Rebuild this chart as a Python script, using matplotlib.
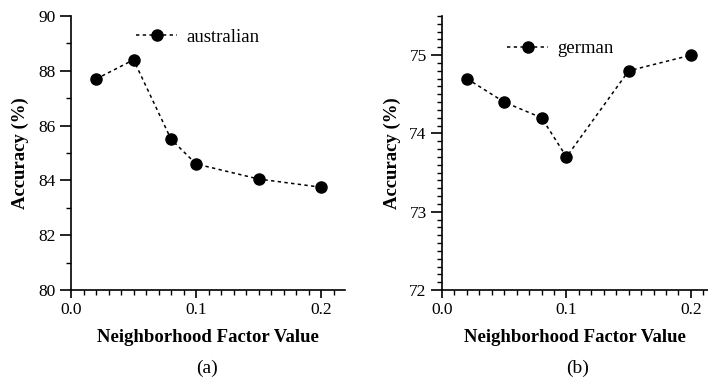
import matplotlib.pyplot as plt
from matplotlib.ticker import MultipleLocator

plt.rcParams['font.family'] = ['Liberation Serif', 'DejaVu Serif']

# data
factor = [0.02, 0.05, 0.08, 0.1, 0.15, 0.2]
acc_australian = [87.7, 88.4, 85.5, 84.6, 84.05, 83.75]
acc_german = [74.7, 74.4, 74.2, 73.7, 74.8, 75.0]

fig = plt.figure(figsize=(7.08, 3.8), dpi=100)
ax1 = fig.add_axes([71 / 708, 1 - 290 / 380, 274 / 708, 274 / 380])
ax2 = fig.add_axes([442 / 708, 1 - 290 / 380, 266 / 708, 274 / 380])


def style(ax, ylim, ymajor, yminor, xmax, ylab_x):
    ax.set_xlim(0, xmax)
    ax.set_ylim(*ylim)
    ax.spines['top'].set_visible(False)
    ax.spines['right'].set_visible(False)
    ax.xaxis.set_major_locator(MultipleLocator(0.1))
    ax.xaxis.set_minor_locator(MultipleLocator(0.01))
    ax.yaxis.set_major_locator(MultipleLocator(ymajor))
    ax.yaxis.set_minor_locator(MultipleLocator(yminor))
    ax.xaxis.set_major_formatter(plt.FuncFormatter(lambda v, p: f'{v:.1f}'))
    ax.tick_params(which='major', direction='out', width=1.2, labelsize=12.5, pad=3)
    ax.tick_params(axis='y', which='major', length=8)
    ax.tick_params(axis='x', which='major', length=6)
    ax.tick_params(which='minor', direction='out', length=3.5, width=1)
    for s in ['left', 'bottom']:
        ax.spines[s].set_linewidth(1.2)
    ax.set_xlabel('Neighborhood Factor Value', fontsize=13.5, fontweight='bold', va='center')
    ax.set_ylabel('Accuracy (%)', fontsize=13.5, fontweight='bold', va='center')
    ax.xaxis.set_label_coords(0.5, (290 - 337) / 274)
    ax.yaxis.set_label_coords(ylab_x, 0.5)


line_kw = dict(color='black', linestyle=(0, (2.2, 2.2)), linewidth=1.1,
               marker='o', markersize=8, markerfacecolor='black', markeredgecolor='black')
leg_kw = dict(loc='center left', frameon=False, borderpad=0, borderaxespad=0,
              handlelength=2.2, handletextpad=0.5, fontsize=13.5)

ax1.plot(factor, acc_australian, label='australian', **line_kw)
style(ax1, (80, 90), 2, 1, 0.219, -0.186)
ax1.legend(bbox_to_anchor=(0.237, 0.923), **leg_kw)

ax2.plot(factor, acc_german, label='german', **line_kw)
style(ax2, (72, 75.5), 1, 0.1, 0.2137, -0.188)
ax2.legend(bbox_to_anchor=(0.244, 0.88), **leg_kw)

fig.text(207 / 708, 1 - 368 / 380, '(a)', ha='center', va='center', fontsize=14)
fig.text(578 / 708, 1 - 368 / 380, '(b)', ha='center', va='center', fontsize=14)

fig.savefig('out.png', dpi=100)
